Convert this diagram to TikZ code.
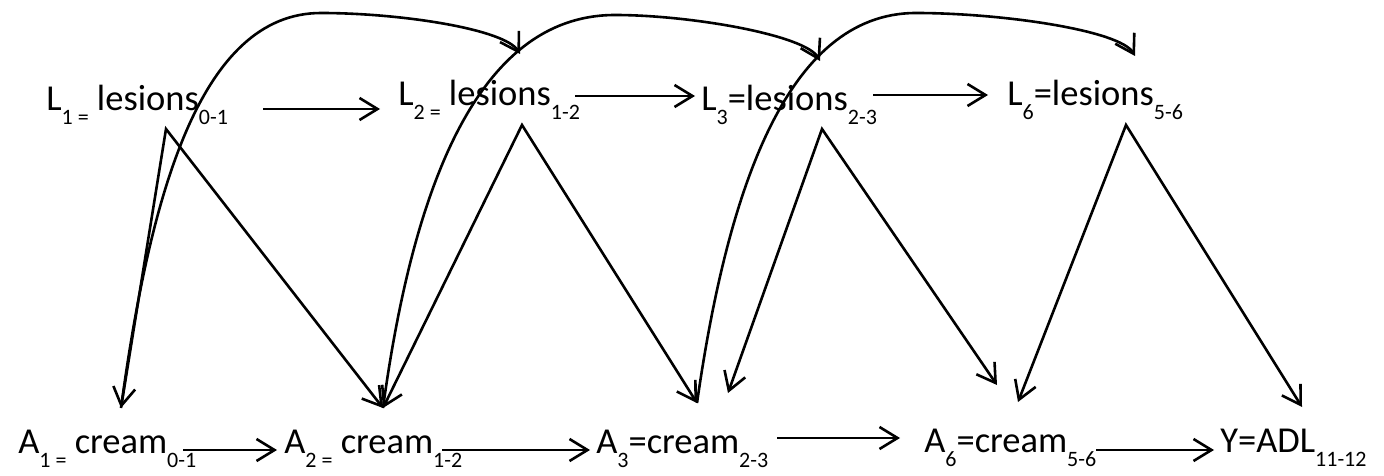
\documentclass[tikz,border=0pt]{standalone}
\usepackage{fontspec}
\setmainfont{Carlito}
\usetikzlibrary{arrows.meta}
\newcommand{\lsub}[1]{\raisebox{-14pt}{\fontsize{22}{24}\selectfont #1}}
\begin{document}
\begin{tikzpicture}[x=1pt,y=1pt,line width=2.6pt,line join=miter,
  lbl/.style={anchor=base west,inner sep=0pt,font=\fontsize{36.5}{40}\selectfont},
  arr/.style={-{Straight Barb[length=18pt,width=22pt]}},
  arrtwo/.style={{Straight Barb[length=18pt,width=22pt]}-{Straight Barb[length=18pt,width=22pt]}}]
\useasboundingbox (0,0) rectangle (1384,475);
% top row
\node[lbl] (L1) at (45,364) {L\lsub{1 =} lesions\lsub{0-1}};
\node[lbl] (L2) at (397,370) {L\lsub{2 =} lesions\lsub{1-2}};
\node[lbl] (L3) at (700,364) {L\lsub{3}=lesions\lsub{2-3}};
\node[lbl] (L6) at (1006,370) {L\lsub{6}=lesions\lsub{5-6}};
% bottom row
\node[lbl] (A1) at (17,22) {A\lsub{1 =} cream\lsub{0-1}};
\node[lbl] (A2) at (283,22) {A\lsub{2 =} cream\lsub{1-2}};
\node[lbl] (A3) at (595,22) {A\lsub{3}=cream\lsub{2-3}};
\node[lbl] (A6) at (923,23) {A\lsub{6}=cream\lsub{5-6}};
\node[lbl] (Y) at (1219,23) {Y=ADL\lsub{11-12}};
% apexes and tips
\coordinate (L1p) at ([shift={(121,-18)}]L1.base west);
\coordinate (L2p) at ([shift={(125,-20)}]L2.base west);
\coordinate (L3p) at ([shift={(122,-18)}]L3.base west);
\coordinate (L6p) at ([shift={(120,-20)}]L6.base west);
\coordinate (A1t) at ([shift={(104,45)}]A1.base west);
\coordinate (A2t) at ([shift={(100,45)}]A2.base west);
\coordinate (A3t) at ([shift={(102,50)}]A3.base west);
\coordinate (A3b) at ([shift={(133,60)}]A3.base west);
\coordinate (A6a) at ([shift={(74,67)}]A6.base west);
\coordinate (A6b) at ([shift={(95,50)}]A6.base west);
\coordinate (Yt) at ([shift={(83,45)}]Y.base west);
\coordinate (L2e) at ([shift={(123,51)}]L2.base west);
\coordinate (L3e) at ([shift={(120,50)}]L3.base west);
\coordinate (L6e) at ([shift={(129,49)}]L6.base west);
% horizontal arrows
\draw[arr] ([shift={(218,2)}]L1.base west) -- ([shift={(-17,-4)}]L2.base west);
\draw[arr] ([shift={(178,9)}]L2.base west) -- ([shift={(-5,15)}]L3.base west);
\draw[arr] ([shift={(173,16)}]L3.base west) -- ([shift={(-18,10)}]L6.base west);
\draw[arr] ([shift={(166,3)}]A1.base west) -- ([shift={(-6,3)}]A2.base west);
\draw[arr] ([shift={(159,3)}]A2.base west) -- ([shift={(-5,3)}]A3.base west);
\draw[arr] ([shift={(182,15)}]A3.base west) -- ([shift={(-23,14)}]A6.base west);
\draw[arr] ([shift={(173,2)}]A6.base west) -- ([shift={(-5,2)}]Y.base west);
% lesion -> cream lines
\draw[arrtwo] (A1t) -- (L1p) -- (A2t);
\draw[arrtwo] (A2t) -- (L2p) -- (A3t);
\draw[arrtwo] (A3b) -- (L3p) -- (A6a);
\draw[arrtwo] (A6b) -- (L6p) -- (Yt);
% cream -> next lesion curves
\draw[arr] (A1t) .. controls (150,280) and (200,462) .. (321,462)
  .. controls (400,462) and (505,446) .. (L2e);
\draw[arr] (A2t) .. controls (412,280) and (475,460) .. (615,460)
  .. controls (690,460) and (806,440) .. (L3e);
\draw[arr] (A3t) .. controls (727,282) and (786,462) .. (916,462)
  .. controls (1000,462) and (1120,445) .. (L6e);
\end{tikzpicture}
\end{document}
